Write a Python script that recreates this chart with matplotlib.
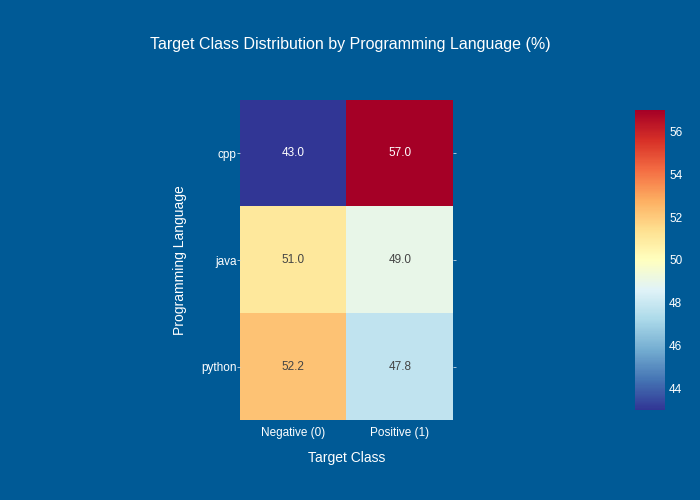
import numpy as np
import matplotlib.pyplot as plt
from matplotlib.colors import Normalize
from matplotlib.colorbar import ColorbarBase

plt.rcParams['font.family'] = ['Liberation Sans', 'DejaVu Sans']

languages = ['cpp', 'java', 'python']
classes = ['Negative (0)', 'Positive (1)']
negative_pct = [43.0, 51.0, 52.2]
positive_pct = [57.0, 49.0, 47.8]

bg = '#005a96'
values = np.array([negative_pct, positive_pct]).T
norm = Normalize(vmin=values.min(), vmax=values.max())
cmap = plt.get_cmap('RdYlBu_r')

fig = plt.figure(figsize=(7, 5), dpi=100, facecolor=bg)
ax = fig.add_axes([240 / 700, 80 / 500, 213 / 700, 320 / 500])
ax.set_facecolor(bg)
ax.imshow(values, cmap=cmap, norm=norm, aspect='auto')

for i in range(len(languages)):
    for j in range(len(classes)):
        v = values[i, j]
        col = 'white' if abs(v - 50) > 5 else '#444444'
        ax.text(j, i, f'{v:.1f}', ha='center', va='center', fontsize=8.5, color=col)

ax.set_xticks(range(len(classes)))
ax.set_xticklabels(classes)
ax.set_yticks(range(len(languages)))
ax.set_yticklabels(languages)
ax.tick_params(axis='x', length=0, colors='white', labelsize=8.5, pad=5)
ax.tick_params(axis='y', length=2, width=0.6, color='#c8d8e8', labelcolor='white',
               labelsize=8.5, pad=0.5, right=True)
for s in ax.spines.values():
    s.set_visible(False)

ax.set_xlabel('Target Class', color='white', fontsize=10, labelpad=9)
ax.set_ylabel('Programming Language', color='white', fontsize=10, labelpad=10)

fig.text(350 / 700, 1 - 44 / 500, 'Target Class Distribution by Programming Language (%)',
         ha='center', va='center', color='white', fontsize=11.5)

cax = fig.add_axes([635 / 700, 90 / 500, 30 / 700, 300 / 500])
cb = ColorbarBase(cax, cmap=cmap, norm=norm)
cb.set_ticks([44, 46, 48, 50, 52, 54, 56])
cb.outline.set_visible(False)
cax.tick_params(length=0, colors='white', labelsize=8.5, pad=3)

fig.savefig('out.png', dpi=100, facecolor=bg)
